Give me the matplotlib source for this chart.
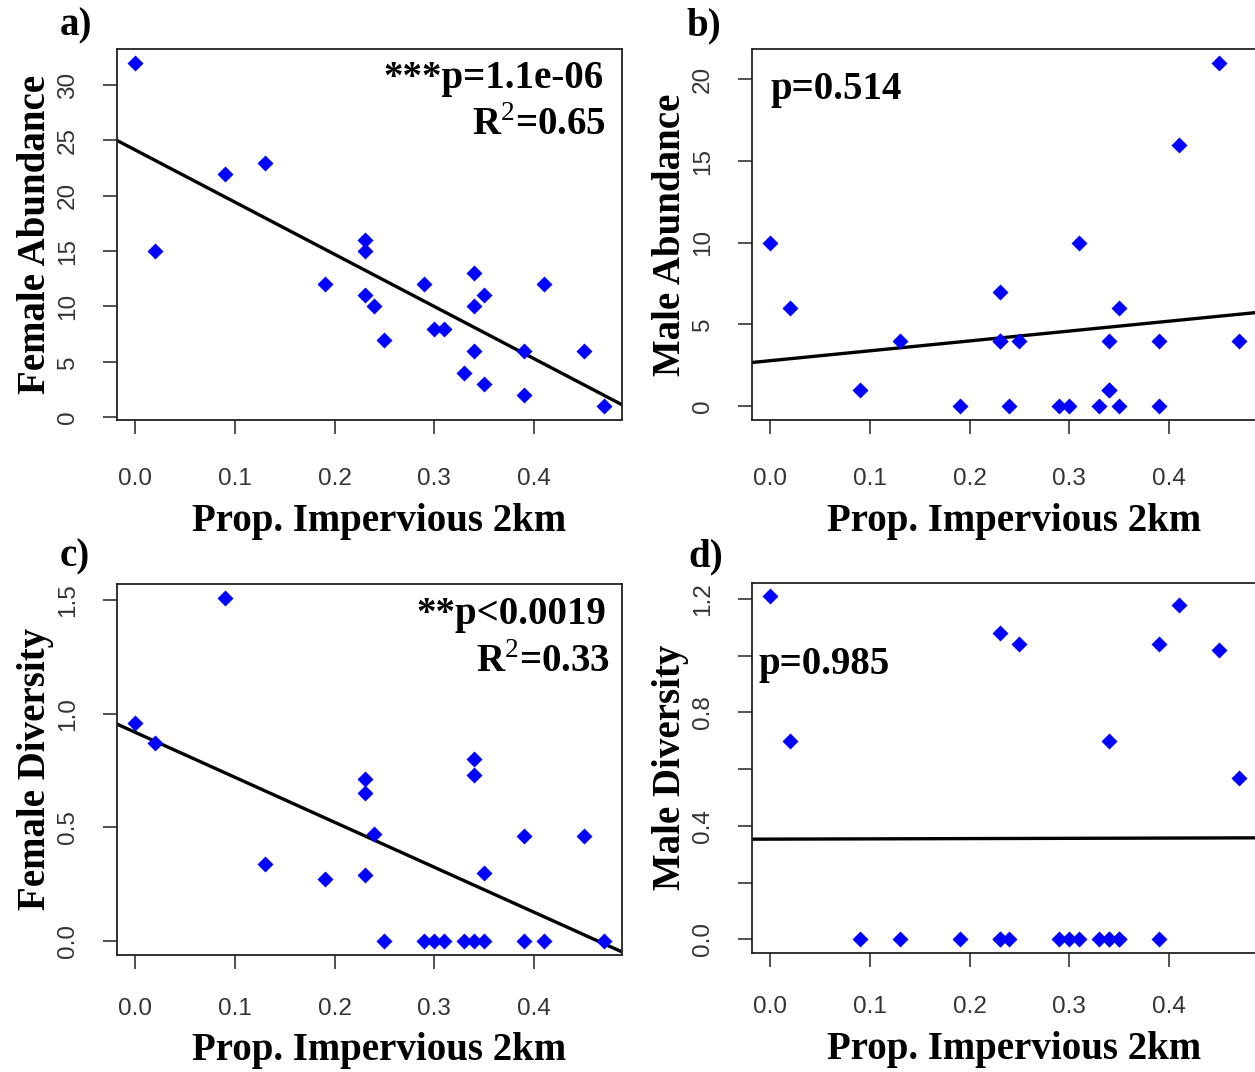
"""Four-panel scatter: abundance / diversity vs impervious surface (2 km buffer)."""

import matplotlib
matplotlib.use("Agg")
import matplotlib.pyplot as plt
import numpy as np

# ---------------------------------------------------------------------------
# Data (one entry per site)
# ---------------------------------------------------------------------------

prop_impervious = [0.00, 0.02, 0.09, 0.13, 0.19, 0.23, 0.23, 0.23, 0.24, 0.25,
                   0.29, 0.30, 0.31, 0.33, 0.34, 0.34, 0.34, 0.35, 0.35, 0.39,
                   0.39, 0.41, 0.45, 0.47]

female_abundance = [32, 15, 22, 23, 12, 16, 15, 11, 10, 7,
                    12, 8, 8, 4, 13, 10, 6, 11, 3, 6,
                    2, 12, 6, 1]

male_abundance = [10, 6, 1, 4, 0, 7, 4, 4, 0, 4,
                  0, 0, 10, 0, 4, 1, 1, 6, 0, 4,
                  0, 16, 21, 4]

female_diversity = [0.96, 0.87, 1.51, 0.34, 0.27, 0.71, 0.65, 0.29, 0.47, 0.00,
                    0.00, 0.00, 0.00, 0.00, 0.80, 0.73, 0.00, 0.30, 0.00, 0.46,
                    0.00, 0.00, 0.46, 0.00]

male_diversity = [1.21, 0.70, 0.00, 0.00, 0.00, 1.08, 0.00, 0.00, 0.00, 1.04,
                  0.00, 0.00, 0.00, 0.00, 0.70, 0.00, 0.00, 0.00, 0.00, 1.04,
                  0.00, 1.18, 1.02, 0.57]

x_ticks = [0.0, 0.1, 0.2, 0.3, 0.4]

# ---------------------------------------------------------------------------
# Panel configuration
# ---------------------------------------------------------------------------

W, H = 1255, 1072
SERIF = "Liberation Serif"
SANS = "Liberation Sans"
TEXT_SIZE = 28
TICK_SIZE = 17.5
TICK_COLOR = "#333333"

plt.rcParams["mathtext.fontset"] = "custom"
plt.rcParams["mathtext.rm"] = SERIF
plt.rcParams["mathtext.bf"] = SERIF + ":bold"

# top row / bottom row: x tick-label pad (pt) and x-label baseline (axes frac)
ROW_TOP = dict(xpad=25, xlab_y=-0.30)
ROW_BOT = dict(xpad=21, xlab_y=-0.285)

panels = [
    dict(tag="a)", tag_xy=(60, 35), y=female_abundance, ylabel="Female Abundance",
         yticks=[0, 5, 10, 15, 20, 25, 30], ylabels=None, row=ROW_TOP,
         rect=(116.7, 49.3), notes=[(r"***p=1.1e-06", 0.964, 0.896, "right"),
                                    (r"R$^{2}$=0.65", 0.968, 0.769, "right")]),
    dict(tag="b)", tag_xy=(686, 35), y=male_abundance, ylabel="Male Abundance",
         yticks=[0, 5, 10, 15, 20], ylabels=None, row=ROW_TOP,
         rect=(751.7, 49.3), notes=[("p=0.514", 0.038, 0.866, "left")]),
    dict(tag="c)", tag_xy=(60, 566), y=female_diversity, ylabel="Female Diversity",
         yticks=[0.0, 0.5, 1.0, 1.5], ylabels=["0.0", "0.5", "1.0", "1.5"], row=ROW_BOT,
         rect=(116.7, 584.0), notes=[(r"**p<0.0019", 0.968, 0.892, "right"),
                                     (r"R$^{2}$=0.33", 0.976, 0.762, "right")]),
    dict(tag="d)", tag_xy=(688, 566), y=male_diversity, ylabel="Male Diversity",
         yticks=[0.0, 0.2, 0.4, 0.6, 0.8, 1.0, 1.2],
         ylabels=["0.0", "", "0.4", "", "0.8", "", "1.2"], row=ROW_BOT,
         rect=(751.7, 582.5), notes=[("p=0.985", 0.013, 0.752, "left")]),
]

AX_W, AX_H = 505.6, 370.5

# ---------------------------------------------------------------------------
# Plot
# ---------------------------------------------------------------------------

fig = plt.figure(figsize=(W / 100, H / 100), dpi=100)
x = np.array(prop_impervious)

def r_range(v):
    # R's default axis extension: 4% either side of the data range
    lo, hi = min(v), max(v)
    pad = 0.04 * (hi - lo)
    return lo - pad, hi + pad

for p in panels:
    left, top = p["rect"]
    ax = fig.add_axes([left / W, 1 - (top + AX_H) / H, AX_W / W, AX_H / H])
    y = np.array(p["y"], dtype=float)

    ax.set_xlim(*r_range(x))
    ax.set_ylim(*r_range(y))

    ax.plot(x, y, "D", color="#0000FF", ms=8, mec="none", zorder=3)

    # least-squares line across the full plot width (abline(lm(...)))
    slope, intercept = np.polyfit(x, y, 1)
    xl = np.array(ax.get_xlim())
    ax.plot(xl, intercept + slope * xl, color="black", lw=2.4,
            scalex=False, scaley=False, zorder=2)

    ax.set_xticks(x_ticks)
    ax.set_xticklabels([f"{t:.1f}" for t in x_ticks])
    ax.set_yticks(p["yticks"])
    if p["ylabels"] is not None:
        ax.set_yticklabels(p["ylabels"])

    ax.tick_params(axis="both", length=10, width=1.1, color="#222222",
                   labelsize=TICK_SIZE, labelcolor=TICK_COLOR)
    ax.tick_params(axis="x", pad=p["row"]["xpad"])
    ax.tick_params(axis="y", pad=17, labelrotation=90)
    for lab in ax.get_xticklabels() + ax.get_yticklabels():
        lab.set_fontfamily(SANS)
    for lab in ax.get_yticklabels():
        lab.set_verticalalignment("center")

    for s in ax.spines.values():
        s.set_linewidth(1.3)
        s.set_color("#222222")

    ax.text(0.518, p["row"]["xlab_y"], "Prop. Impervious 2km", transform=ax.transAxes,
            ha="center", va="baseline", fontsize=TEXT_SIZE,
            fontfamily=SERIF, fontweight="bold")
    ax.text(-0.198, 0.5, p["ylabel"], transform=ax.transAxes, rotation=90,
            ha="left", va="center", fontsize=TEXT_SIZE,
            fontfamily=SERIF, fontweight="bold")

    for txt, tx, ty, ha in p["notes"]:
        ax.text(tx, ty, txt, transform=ax.transAxes, ha=ha, va="baseline",
                fontsize=TEXT_SIZE, fontfamily=SERIF, fontweight="bold")

    tx, ty = p["tag_xy"]
    fig.text(tx / W, 1 - ty / H, p["tag"], ha="left", va="baseline",
             fontsize=TEXT_SIZE, fontfamily=SERIF, fontweight="bold")

fig.savefig("out.png", dpi=100)
